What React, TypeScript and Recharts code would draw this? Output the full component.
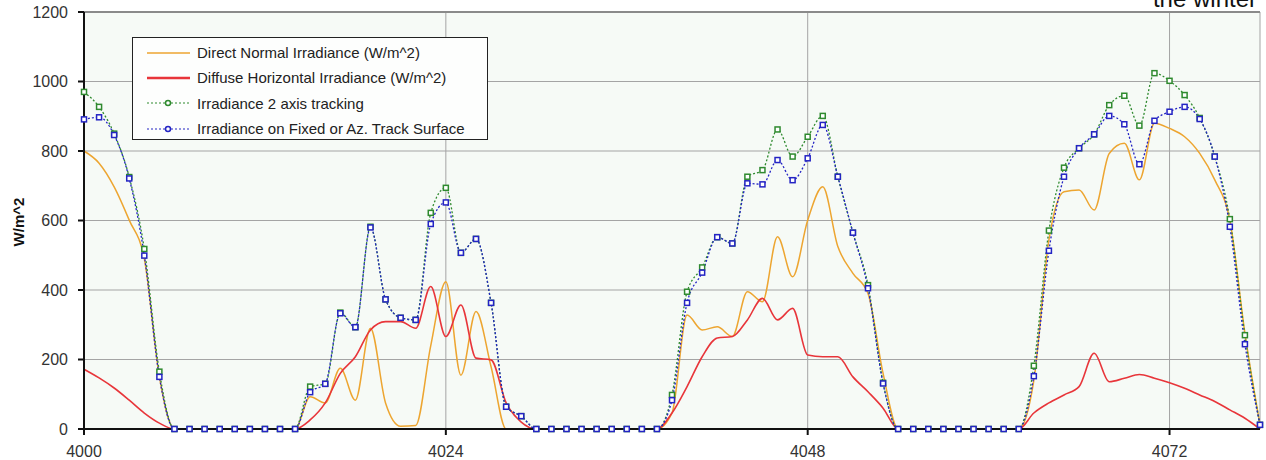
import React from "react";
import { LineChart, Line, XAxis, YAxis, CartesianGrid, ReferenceLine } from "recharts";

// hours 4000..4078
const startHour = 4000;
const xTicks = [4000, 4024, 4048, 4072];
const yTicks = [0, 200, 400, 600, 800, 1000, 1200];

const night = [0, 0, 0, 0, 0, 0, 0, 0, 0];

const directNormal = [
  800, 765, 697, 601, 490, 150, ...night,
  93, 75, 175, 83, 290, 75, 8, 10, 240, 424, 155, 338, 179, 0, 0, ...night,
  46, 328, 285, 294, 266, 395, 366, 553, 438, 601, 697, 525, 448, 390, 160, ...night,
  140, 544, 683, 688, 630, 793, 822, 717, 880, 865, 841, 793, 717, 601, 275, 12,
];

const diffuseHorizontal = [
  172, 147, 118, 83, 46, 17, ...night,
  26, 75, 160, 208, 285, 309, 309, 290, 410, 266, 357, 204, 199, 75, 20, ...night,
  46, 122, 208, 262, 266, 314, 376, 314, 347, 213, 208, 208, 150, 107, 60, ...night,
  46, 75, 98, 122, 218, 136, 146, 157, 146, 133, 117, 98, 79, 55, 31, 0,
];

const twoAxis = [
  970, 927, 850, 725, 518, 165, ...night,
  122, 130, 335, 293, 582, 373, 320, 314, 622, 694, 507, 547, 363, 64, 37, ...night,
  98, 395, 465, 552, 534, 726, 745, 862, 784, 841, 901, 726, 565, 414, 133, ...night,
  182, 571, 752, 808, 848, 932, 959, 873, 1024, 1002, 961, 895, 784, 604, 270, 12,
];

const fixedSurface = [
  891, 897, 846, 721, 499, 150, ...night,
  106, 130, 333, 293, 580, 373, 320, 314, 590, 652, 507, 547, 363, 64, 37, ...night,
  83, 363, 450, 552, 534, 707, 704, 774, 716, 779, 875, 726, 565, 405, 131, ...night,
  152, 513, 726, 808, 848, 901, 877, 762, 887, 913, 927, 892, 784, 582, 244, 12,
];

const seriesNames = [
  "Direct Normal Irradiance (W/m^2)",
  "Diffuse Horizontal Irradiance (W/m^2)",
  "Irradiance 2 axis tracking",
  "Irradiance on Fixed or Az. Track Surface",
];

const data = fixedSurface.map((_, i) => ({
  hour: startHour + i,
  dni: directNormal[i],
  dhi: diffuseHorizontal[i],
  twoAxis: twoAxis[i],
  fixed: fixedSurface[i],
}));

const ORANGE = "#eda530";
const RED = "#e8353a";
const GREEN = "#2f8a2f";
const BLUE = "#2424c4";
const FONT = "'Liberation Sans', Arial, sans-serif";

const squareDot = (color: string) => (props: any) => {
  const { cx, cy, index } = props;
  if (cx == null || cy == null) return <g key={`d-${index}`} />;
  return (
    <rect
      key={`d-${index}`}
      x={cx - 2.5}
      y={cy - 2.5}
      width={5}
      height={5}
      fill="#ffffff"
      stroke={color}
      strokeWidth={1.5}
    />
  );
};

function LegendBox() {
  const rows = [
    { color: ORANGE, dash: undefined, width: 1.5, marker: false },
    { color: RED, dash: undefined, width: 2.5, marker: false },
    { color: GREEN, dash: "2 2", width: 1.2, marker: true },
    { color: BLUE, dash: "2 2", width: 1.2, marker: true },
  ];
  return (
    <div
      style={{
        position: "absolute",
        left: 132,
        top: 37,
        width: 354,
        height: 99,
        border: "1.5px solid #222",
        background: "#fdfefd",
        fontFamily: FONT,
        fontSize: 15,
        color: "#222",
        paddingTop: 2,
      }}
    >
      {rows.map((r, i) => (
        <div key={i} style={{ display: "flex", alignItems: "center", height: 25.3 }}>
          <svg width={64} height={12} style={{ flex: "none" }}>
            <line x1={14} y1={6} x2={57} y2={6} stroke={r.color} strokeWidth={r.width} strokeDasharray={r.dash} />
            {r.marker && <circle cx={35} cy={6} r={2.5} fill="#fff" stroke={r.color} strokeWidth={1.5} />}
          </svg>
          <span style={{ whiteSpace: "nowrap" }}>{seriesNames[i]}</span>
        </div>
      ))}
    </div>
  );
}

export default function App() {
  return (
    <div style={{ position: "fixed", left: 0, top: 0, width: 1266, height: 460, background: "#ffffff", overflow: "hidden" }}>
      <LineChart width={1266} height={460} data={data} margin={{ top: 12, right: 6, bottom: 0, left: 0 }}>
        <CartesianGrid stroke="#a4a4a4" strokeWidth={1} fill="#f6faf6" />
        <XAxis
          dataKey="hour"
          type="number"
          domain={[4000, 4078]}
          ticks={xTicks}
          height={31}
          tickSize={6}
          tickMargin={11}
          stroke="#111"
          strokeWidth={2}
          tick={{ fontSize: 16, fontFamily: FONT, fill: "#333" }}
        />
        <YAxis
          type="number"
          domain={[0, 1200]}
          ticks={yTicks}
          width={84}
          tickSize={6}
          tickMargin={10}
          stroke="#111"
          strokeWidth={2}
          tick={{ fontSize: 16, fontFamily: FONT, fill: "#333" }}
        />
        <ReferenceLine y={1200} stroke="#8a8a8a" strokeWidth={2} />
        <Line
          type="monotone"
          dataKey="dni"
          stroke={ORANGE}
          strokeWidth={1.5}
          dot={false}
          isAnimationActive={false}
        />
        <Line
          type="monotone"
          dataKey="dhi"
          stroke={RED}
          strokeWidth={1.6}
          dot={false}
          isAnimationActive={false}
        />
        <Line
          type="monotone"
          dataKey="twoAxis"
          stroke={GREEN}
          strokeWidth={1.3}
          strokeDasharray="2 2"
          dot={squareDot(GREEN)}
          isAnimationActive={false}
        />
        <Line
          type="monotone"
          dataKey="fixed"
          stroke={BLUE}
          strokeWidth={1.3}
          strokeDasharray="2 2"
          dot={squareDot(BLUE)}
          isAnimationActive={false}
        />
      </LineChart>
      <LegendBox />
      <svg width={1266} height={460} style={{ position: "absolute", left: 0, top: 0, pointerEvents: "none" }}>
        <text x={1257} y={7} textAnchor="end" fontFamily={FONT} fontSize={24} fill="#111">
          the winter
        </text>
        <text
          x={0}
          y={0}
          transform="translate(24 222) rotate(-90)"
          textAnchor="middle"
          fontFamily={FONT}
          fontSize={15}
          fontWeight="bold"
          fill="#111"
        >
          W/m^2
        </text>
      </svg>
    </div>
  );
}
